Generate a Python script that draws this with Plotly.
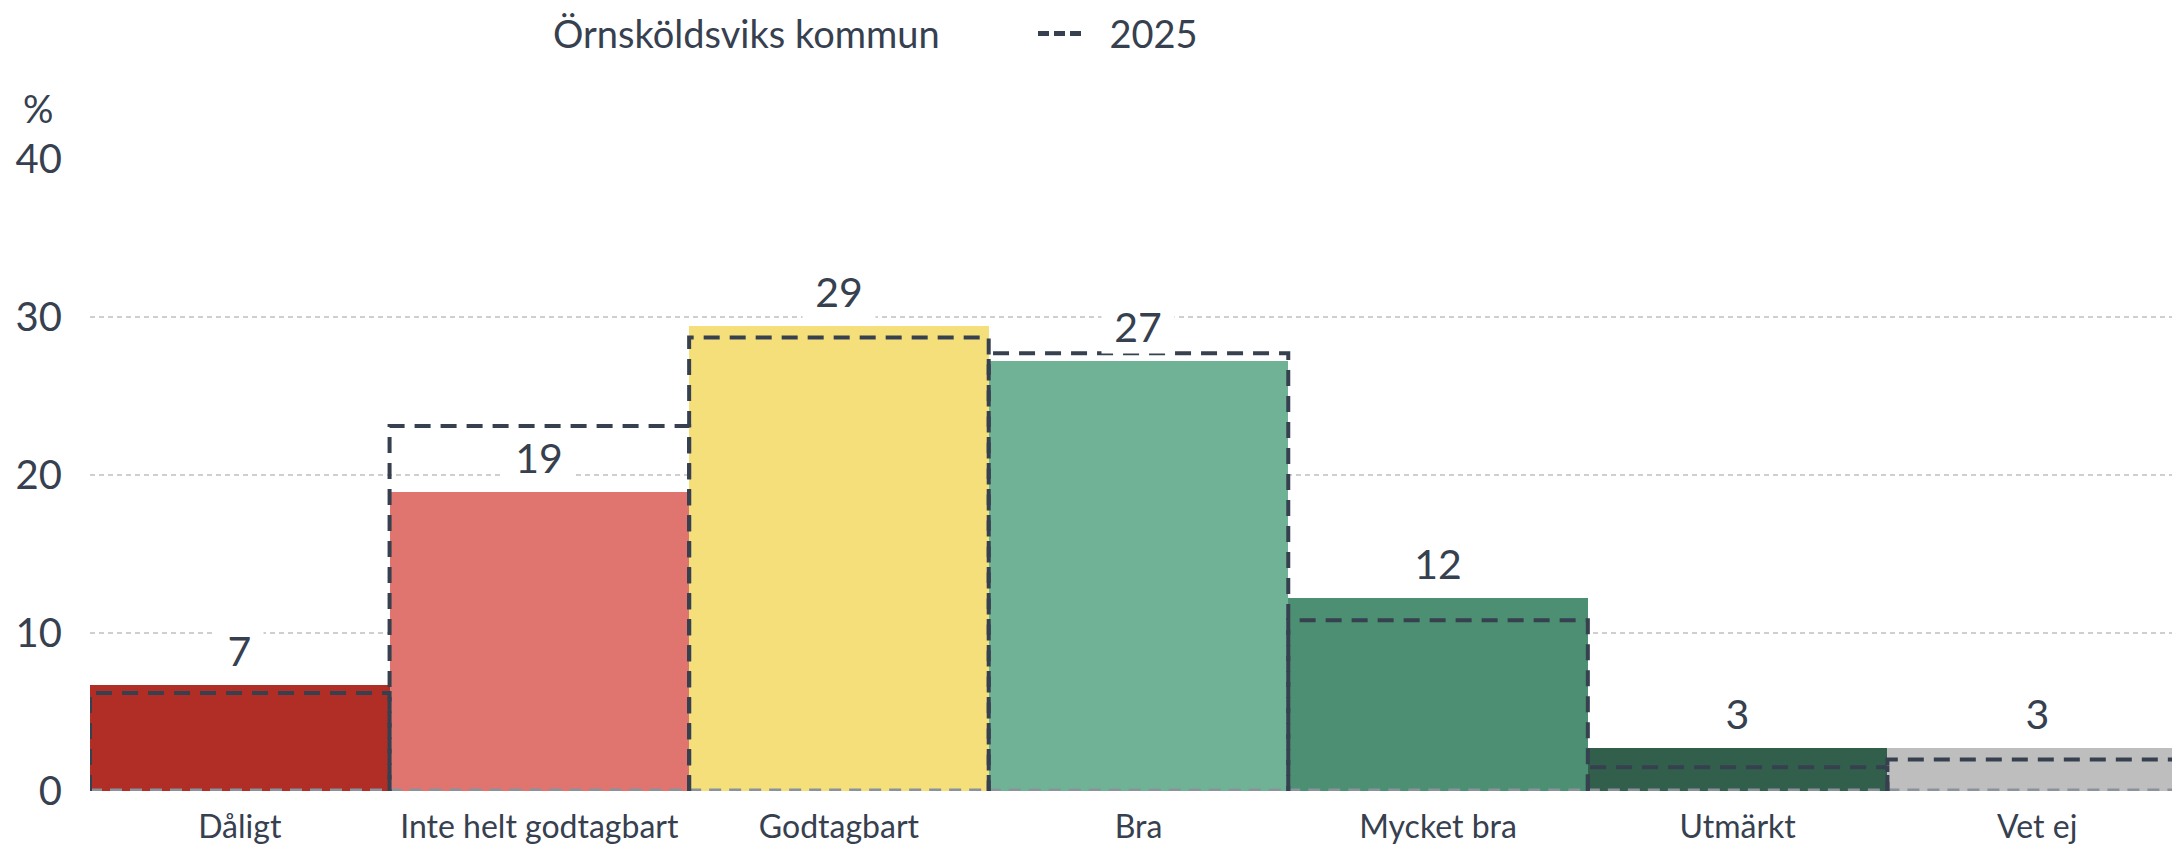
import plotly.graph_objects as go

categories = ["Dåligt", "Inte helt godtagbart", "Godtagbart", "Bra", "Mycket bra", "Utmärkt", "Vet ej"]
values_current = [6.7, 18.9, 29.4, 27.2, 12.2, 2.7, 2.7]
labels_current = ["7", "19", "29", "27", "12", "3", "3"]
values_2025 = [6.2, 23.1, 28.7, 27.7, 10.8, 1.5, 2.0]
bar_colors = ["#B02E26", "#E07570", "#F5DF7A", "#70B295", "#4C8F72", "#325F4C", "#BEBEBE"]
y_ticks = [0, 10, 20, 30, 40]

TXT = "#36404F"
FONT = "Lato"

xpos = list(range(len(categories)))

fig = go.Figure()

fig.add_trace(go.Bar(
    x=xpos, y=values_current, width=1.0,
    marker=dict(color=bar_colors, line=dict(width=0)),
    showlegend=False, hoverinfo="skip",
))

# 2025 outlines (dashed rectangles per category)
ox, oy = [], []
bx, by = [], []
for i, v in enumerate(values_2025):
    ox += [i - 0.5, i - 0.5, i + 0.5, i + 0.5, None]
    oy += [0, v, v, 0, None]
    bx += [i - 0.5, i + 0.5, None]
    by += [0, 0, None]

fig.add_trace(go.Scatter(
    x=bx, y=by, mode="lines",
    line=dict(color="#8A929C", width=5, dash="12px,8px"),
    showlegend=False, hoverinfo="skip", cliponaxis=False,
))

fig.add_trace(go.Scatter(
    x=ox, y=oy, mode="lines",
    line=dict(color=TXT, width=4, dash="16px,10px"),
    showlegend=False, hoverinfo="skip", cliponaxis=False,
))

# legend entries
fig.add_trace(go.Scatter(
    x=[None], y=[None], mode="lines",
    line=dict(color="rgba(0,0,0,0)", width=1),
    name="Örnsköldsviks kommun",
))
fig.add_trace(go.Scatter(
    x=[None], y=[None], mode="lines",
    line=dict(color=TXT, width=5, dash="11px,5px"),
    name="\u00a0\u00a02025",
))

for i, (v, t) in enumerate(zip(values_current, labels_current)):
    fig.add_annotation(
        x=i, y=v, xref="x", yref="y", text=t, showarrow=False,
        yanchor="bottom", yshift=7,
        font=dict(family=FONT, size=41, color=TXT),
        bgcolor="white", borderpad=2, width=len(t) * 25 + 18,
    )

fig.add_annotation(
    x=0, y=1, xref="paper", yref="paper", text="%", showarrow=False,
    xanchor="center", yanchor="middle", xshift=-52, yshift=51,
    font=dict(family=FONT, size=38, color=TXT),
)

fig.update_layout(
    width=2172, height=846,
    margin=dict(l=90, r=0, t=159, b=55, autoexpand=False),
    paper_bgcolor="white", plot_bgcolor="white",
    bargap=0,
    font=dict(family=FONT, color=TXT),
    legend=dict(
        orientation="h", x=0.195, xanchor="left", y=1.198, yanchor="middle",
        font=dict(family=FONT, size=38, color=TXT),
        itemwidth=47, entrywidth=475, entrywidthmode="pixels",
        bgcolor="rgba(0,0,0,0)", itemclick=False,
    ),
    xaxis=dict(
        range=[-0.5, 6.45], tickvals=xpos, ticktext=categories,
        showgrid=False, zeroline=False, showline=False, ticks="",
        tickfont=dict(family=FONT, size=32, color=TXT),
        ticklabelstandoff=14, fixedrange=True, automargin=False,
    ),
    yaxis=dict(
        range=[0, 40], tickvals=y_ticks, showgrid=True,
        gridcolor="#CFCFCF", gridwidth=1.5, griddash="5px,4px",
        zeroline=False, showline=False, ticks="",
        tickfont=dict(family=FONT, size=40, color=TXT),
        ticklabelstandoff=27, fixedrange=True, automargin=False,
    ),
)

fig.write_html(
    "out.html",
    config={"displayModeBar": False},
    post_script="document.body.style.margin='0';document.body.style.overflow='hidden';",
)
